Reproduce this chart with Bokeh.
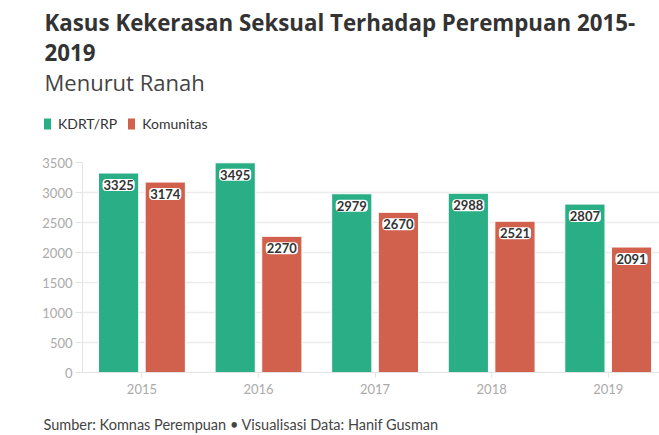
from bokeh.plotting import figure
from bokeh.layouts import column
from bokeh.models import (ColumnDataSource, Range1d, FixedTicker, Legend, LegendItem)
from bokeh.core.properties import value
from bokeh.embed import file_html
from bokeh.resources import INLINE

years = [2015, 2016, 2017, 2018, 2019]
kdrt = [3325, 3495, 2979, 2988, 2807]
komunitas = [3174, 2270, 2670, 2521, 2091]
y_ticks = [0, 500, 1000, 1500, 2000, 2500, 3000, 3500]
series_names = ["KDRT/RP", "Komunitas"]

title_1 = "Kasus Kekerasan Seksual Terhadap Perempuan 2015-"
title_2 = "2019"
subtitle = "Menurut Ranah"
footer = "Sumber: Komnas Perempuan \u2022 Visualisasi Data: Hanif Gusman"

GREEN = "#2aae86"
RED = "#d1604d"
FONT = "Lato"
HFONT = "Open Sans"
W = 659


def blank_fig(h):
    f = figure(width=W, height=h, output_backend="svg", toolbar_location=None,
               x_range=Range1d(0, W), y_range=Range1d(h, 0),
               x_axis_type=None, y_axis_type=None, min_border=0,
               outline_line_color=None, background_fill_color="white",
               border_fill_color="white", frame_align=False)
    f.xgrid.visible = False
    f.ygrid.visible = False
    return f


# ---------- header: titles + legend ----------
H_HEAD = 154
head = blank_fig(H_HEAD)
hsrc = ColumnDataSource(dict(
    x=[44, 44, 44], y=[21.5, 51.5, 81.5],
    t=[title_1, title_2, subtitle],
    s=["bold", "bold", "normal"],
    c=["#333333", "#333333", "#444444"],
    fs=["22.3px", "22.3px", "22px"],
))
head.text(x="x", y="y", text="t", source=hsrc, text_font=value(HFONT),
          text_font_size="fs", text_font_style="s", text_color="c",
          text_baseline="middle", text_align="left")

# legend proxies (zero-size, outside the view)
d1 = head.vbar(x=[-500], top=[0], bottom=[0], width=0.1, fill_color=GREEN, line_color="white")
d2 = head.vbar(x=[-500], top=[0], bottom=[0], width=0.1, fill_color=RED, line_color="white")
legend = Legend(items=[LegendItem(label=series_names[0], renderers=[d1]),
                       LegendItem(label=series_names[1], renderers=[d2])],
                location=(42, 22), orientation="horizontal",
                glyph_width=10, glyph_height=15, label_standoff=6, spacing=9,
                padding=0, margin=0, border_line_color=None,
                background_fill_alpha=0, label_text_font=FONT,
                label_text_font_size="14px", label_text_color="#333333")
head.add_layout(legend, "center")

# ---------- main chart ----------
src = ColumnDataSource(dict(
    x_k=[y - 0.2 for y in years],
    x_c=[y + 0.2 for y in years],
    kdrt=kdrt,
    kom=komunitas,
    kdrt_s=[str(v) for v in kdrt],
    kom_s=[str(v) for v in komunitas],
))

p = figure(width=W, height=246, output_backend="svg", toolbar_location=None,
           x_range=Range1d(2014.49, 2019.44), y_range=Range1d(0, 3500),
           min_border_left=82, min_border_right=0, min_border_top=8,
           min_border_bottom=28, background_fill_color="white",
           border_fill_color="white", outline_line_color=None,
           frame_align=False)

p.vbar(x="x_k", top="kdrt", width=0.345, source=src, fill_color=GREEN,
       line_color="white", line_width=1)
p.vbar(x="x_c", top="kom", width=0.345, source=src, fill_color=RED,
       line_color="white", line_width=1)

for xcol, ycol, tcol in (("x_k", "kdrt", "kdrt_s"), ("x_c", "kom", "kom_s")):
    p.text(x=xcol, y=ycol, text=tcol, source=src, text_align="center",
           text_baseline="middle", y_offset=12, text_font=value(FONT),
           text_font_style="bold", text_font_size="13px", text_color="#333333",
           background_fill_color="white", padding=1, border_radius=4)

p.xaxis.ticker = FixedTicker(ticks=years)
p.yaxis.ticker = FixedTicker(ticks=y_ticks)
for ax in (p.xaxis, p.yaxis):
    ax.axis_line_color = "#e4e4e4"
    ax.major_tick_line_color = "#e4e4e4"
    ax.minor_tick_line_color = None
    ax.major_label_text_color = "#aaaaaa"
    ax.major_label_text_font = FONT
    ax.major_label_text_font_size = "13px"
    ax.major_tick_in = 0
p.xaxis.major_tick_out = 5
p.yaxis.major_tick_out = 7
p.xaxis.major_label_standoff = 6
p.yaxis.major_label_standoff = 3
p.xgrid.grid_line_color = None
p.ygrid.grid_line_color = "#ececec"
p.ygrid.grid_line_width = 1.5

# ---------- footer ----------
H_FOOT = 435 - H_HEAD - 246
foot = blank_fig(H_FOOT)
foot.text(x=[43], y=[H_FOOT - 11], text=[footer], text_font=value(FONT),
          text_font_size="14.5px", text_color="#444444",
          text_baseline="middle", text_align="left")

layout = column(head, p, foot, spacing=0)
open("out.html", "w").write(file_html(layout, INLINE))
